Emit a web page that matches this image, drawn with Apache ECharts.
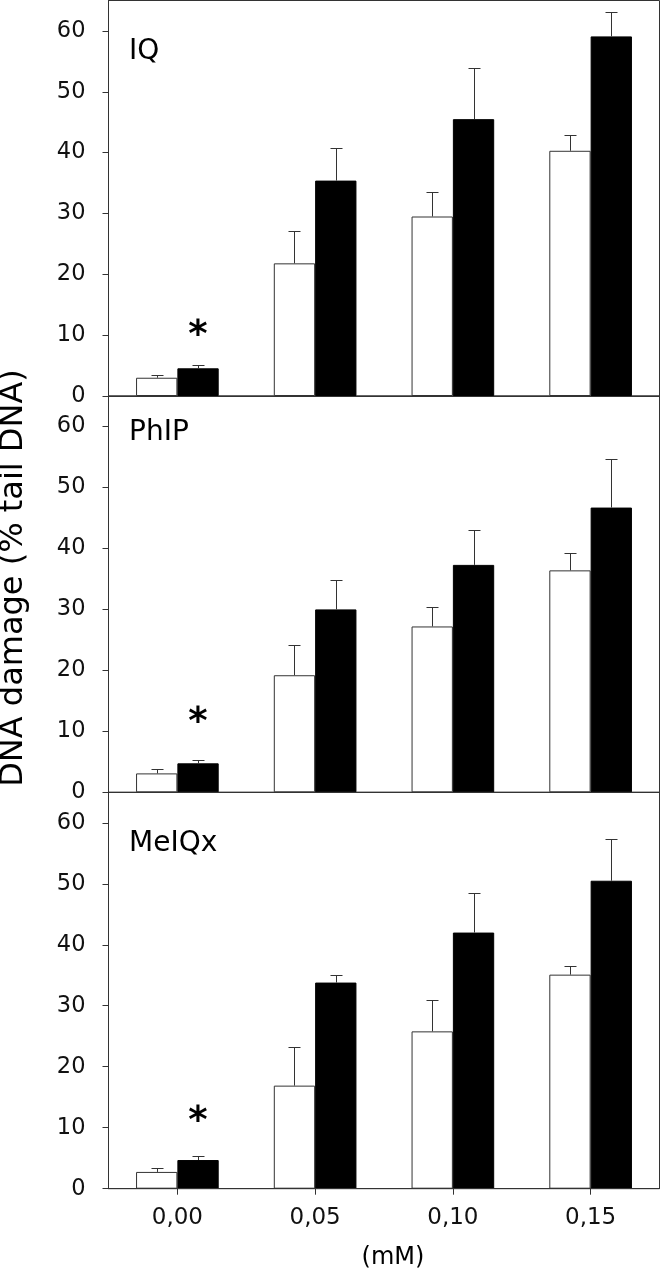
<!DOCTYPE html>
<html><head><meta charset="utf-8">
<script src="https://cdn.jsdelivr.net/npm/echarts@6/dist/echarts.min.js"></script>
<style>html,body{margin:0;padding:0;background:#fff}#c{width:661px;height:1274px}</style>
</head><body><div id="c"></div>
<script>
const categories = ['0,00', '0,05', '0,10', '0,15'];
const panelNames = ['IQ', 'PhIP', 'MeIQx'];
const yTicks = [0, 10, 20, 30, 40, 50, 60];
const yTitle = 'DNA damage (% tail DNA)';
const xTitle = '(mM)';

const iqWhite = [3.0, 21.8, 29.5, 40.3];
const iqWhiteErr = [0.45, 5.3, 4.0, 2.6];
const iqBlack = [4.55, 35.4, 45.5, 59.1];
const iqBlackErr = [0.5, 5.4, 8.4, 4.0];

const phipWhite = [3.1, 19.2, 27.2, 36.4];
const phipWhiteErr = [0.7, 4.9, 3.2, 2.9];
const phipBlack = [4.75, 30.0, 37.3, 46.7];
const phipBlackErr = [0.5, 4.9, 5.8, 7.9];

const meiqxWhite = [2.75, 16.9, 25.8, 35.1];
const meiqxWhiteErr = [0.6, 6.4, 5.2, 1.4];
const meiqxBlack = [4.7, 33.8, 42.0, 50.5];
const meiqxBlackErr = [0.7, 1.3, 6.5, 6.9];

const starLevels = [11.2, 12.7, 12.2];

const panels = [
  {w: iqWhite, we: iqWhiteErr, b: iqBlack, be: iqBlackErr},
  {w: phipWhite, we: phipWhiteErr, b: phipBlack, be: phipBlackErr},
  {w: meiqxWhite, we: meiqxWhiteErr, b: meiqxBlack, be: meiqxBlackErr}
];

const FONT = '"DejaVu Sans", sans-serif';
const LINE = '#333';
const BARW = 0.30;
const gridPos = [{top: 0.5, height: 395.5}, {top: 396, height: 396.3}, {top: 792.3, height: 396.4}];
const labelTops = [37.4, 419, 829.5];

function errRender(sign) {
  return function (params, api) {
    const idx = api.value(0), m = api.value(1), u = api.value(2);
    const band = api.size([1, 0])[0];
    const bw = band * BARW;
    const c = api.coord([idx, m]);
    const t = api.coord([idx, u]);
    const x = Math.round(c[0] + sign * bw / 2) + 0.5;
    const ty = Math.round(t[1]) + 0.5;
    return {type: 'group', children: [
      {type: 'line', shape: {x1: x, y1: c[1], x2: x, y2: ty}, style: {stroke: LINE, lineWidth: 1}},
      {type: 'line', shape: {x1: x - 6, y1: ty, x2: x + 6, y2: ty}, style: {stroke: LINE, lineWidth: 1}}
    ]};
  };
}
function starRender(params, api) {
  const band = api.size([1, 0])[0];
  const bw = band * BARW;
  const c = api.coord([api.value(0), api.value(1)]);
  return {type: 'text', style: {text: '*', x: c[0] + bw / 2, y: c[1] + 8.5,
    font: 'bold 37px ' + FONT, fill: '#000', align: 'center', verticalAlign: 'middle'}};
}

const grid = [], xAxis = [], yAxis = [], series = [], graphic = [];
panels.forEach((p, k) => {
  const last = k === panels.length - 1;
  grid.push({left: 108.5, right: 1.5, top: gridPos[k].top, height: gridPos[k].height,
    show: true, borderColor: LINE, borderWidth: 1, backgroundColor: 'transparent'});
  xAxis.push({type: 'category', gridIndex: k, data: categories, boundaryGap: true,
    axisLine: {show: true, lineStyle: {color: LINE, width: 1}},
    axisTick: {show: last, alignWithLabel: true, length: 6, lineStyle: {color: LINE}},
    axisLabel: {show: last, margin: 18, fontFamily: FONT, fontSize: 23, lineHeight: 23, color: '#111'},
    splitLine: {show: false}, z: 10});
  yAxis.push({type: 'value', gridIndex: k, min: 0, max: 65, interval: 10,
    axisLine: {show: true, lineStyle: {color: LINE, width: 1}},
    axisTick: {show: true, length: 6, lineStyle: {color: LINE}, customValues: yTicks},
    axisLabel: {margin: 23, fontFamily: FONT, fontSize: 22.5, color: '#111', customValues: yTicks},
    splitLine: {show: false}, z: 10});
  series.push({type: 'bar', xAxisIndex: k, yAxisIndex: k, data: p.w, barWidth: (BARW * 100) + '%', barGap: '0%',
    itemStyle: {color: '#fff', borderColor: LINE, borderWidth: 1}, animation: false, z: 2});
  series.push({type: 'bar', xAxisIndex: k, yAxisIndex: k, data: p.b, barWidth: (BARW * 100) + '%', barGap: '0%',
    itemStyle: {color: '#000', borderColor: '#000', borderWidth: 1}, animation: false, z: 2});
  series.push({type: 'custom', xAxisIndex: k, yAxisIndex: k, renderItem: errRender(-1),
    data: p.w.map((v, i) => [i, v, v + p.we[i]]), encode: {x: 0, y: [1, 2]}, z: 5, animation: false});
  series.push({type: 'custom', xAxisIndex: k, yAxisIndex: k, renderItem: errRender(1),
    data: p.b.map((v, i) => [i, v, v + p.be[i]]), encode: {x: 0, y: [1, 2]}, z: 5, animation: false});
  series.push({type: 'custom', xAxisIndex: k, yAxisIndex: k, renderItem: starRender,
    data: [[0, starLevels[k]]], encode: {x: 0, y: 1}, z: 6, animation: false});
  graphic.push({type: 'text', left: 129, top: labelTops[k],
    style: {text: panelNames[k], font: '28px ' + FONT, fill: '#000', lineHeight: 28}});
});
graphic.push({type: 'text', x: 14, y: 578, rotation: Math.PI / 2,
  style: {text: yTitle, font: '32px ' + FONT, fill: '#000', align: 'center', verticalAlign: 'middle'}});
graphic.push({type: 'text', x: 393, y: 1258,
  style: {text: xTitle, font: '24px ' + FONT, fill: '#000', align: 'center', verticalAlign: 'middle'}});

const chart = echarts.init(document.getElementById('c'), null, {renderer: 'canvas'});
chart.setOption({animation: false, backgroundColor: '#fff', grid, xAxis, yAxis, series, graphic});
</script>
</body></html>
